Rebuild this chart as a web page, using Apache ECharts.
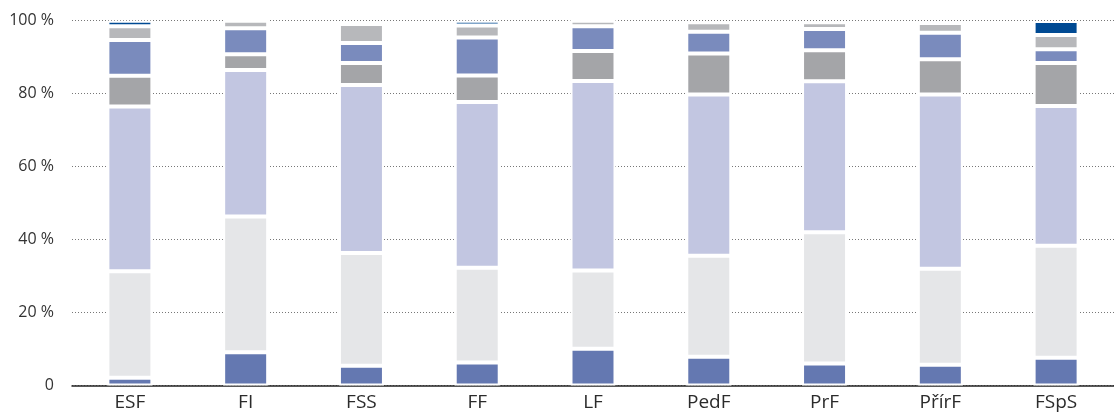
<!DOCTYPE html>
<html>
<head>
<meta charset="utf-8">
<script src="https://cdn.jsdelivr.net/npm/echarts@6/dist/echarts.min.js"></script>
<style>
  html, body { margin: 0; padding: 0; background: #fff; }
  #chart { width: 1114px; height: 416px; }
</style>
</head>
<body>
<div id="chart"></div>
<script>
// fakulty
var categories = ['ESF', 'FI', 'FSS', 'FF', 'LF', 'PedF', 'PrF', 'PřírF', 'FSpS'];

// podíly v % (odspodu nahoru)
var seg1 = [2.1, 9.1, 5.4, 6.3, 10.1, 7.9, 6.0, 5.7, 7.6];
var seg2 = [29.2, 37.2, 30.9, 26.0, 21.4, 27.7, 36.0, 26.3, 30.7];
var seg3 = [45.2, 40.2, 46.1, 45.4, 52.0, 44.2, 41.4, 47.8, 38.3];
var seg4 = [8.4, 4.3, 6.0, 7.3, 8.2, 11.2, 8.5, 9.6, 11.8];
var seg5 = [9.8, 7.1, 5.5, 10.4, 6.8, 6.0, 5.8, 7.3, 3.8];
var seg6 = [3.8, 2.1, 5.2, 3.3, 1.5, 2.6, 1.9, 2.7, 3.9];
var seg7 = [1.5, 0, 0, 1.3, 0, 0, 0, 0, 3.8];

var yTicks = [0, 20, 40, 60, 80, 100];

var segments = [seg1, seg2, seg3, seg4, seg5, seg6, seg7];
var colors = ['#6478b1', '#e5e6e8', '#c2c6e1', '#a4a5a8', '#7a8bbd', '#b7b8bb', '#004a93'];

var chart = echarts.init(document.getElementById('chart'));

var series = segments.map(function (vals, i) {
  return {
    name: 'řada ' + (i + 1),
    type: 'bar',
    stack: 'celkem',
    barWidth: 45,
    data: vals,
    itemStyle: {
      color: colors[i],
      borderColor: '#fff',
      borderWidth: 2
    }
  };
});

chart.setOption({
  animation: false,
  grid: { left: 72, top: 20.7, width: 1057, bottom: 30.5 },
  xAxis: {
    type: 'category',
    data: categories,
    axisTick: { show: false },
    axisLine: { lineStyle: { color: '#222', width: 1.5 } },
    axisLabel: {
      color: '#2b2b2b',
      fontSize: 19,
      fontFamily: 'Open Sans',
      margin: 8
    }
  },
  yAxis: {
    type: 'value',
    min: yTicks[0],
    max: yTicks[yTicks.length - 1],
    interval: 20,
    axisLine: { show: false },
    axisTick: { show: false },
    axisLabel: {
      color: '#333',
      fontSize: 16,
      fontFamily: 'Open Sans',
      margin: 18,
      formatter: function (v) { return v === 0 ? '0' : v + ' %'; }
    },
    splitLine: {
      lineStyle: { color: '#777', width: 1, type: [1, 2] }
    }
  },
  series: series
});
</script>
</body>
</html>
